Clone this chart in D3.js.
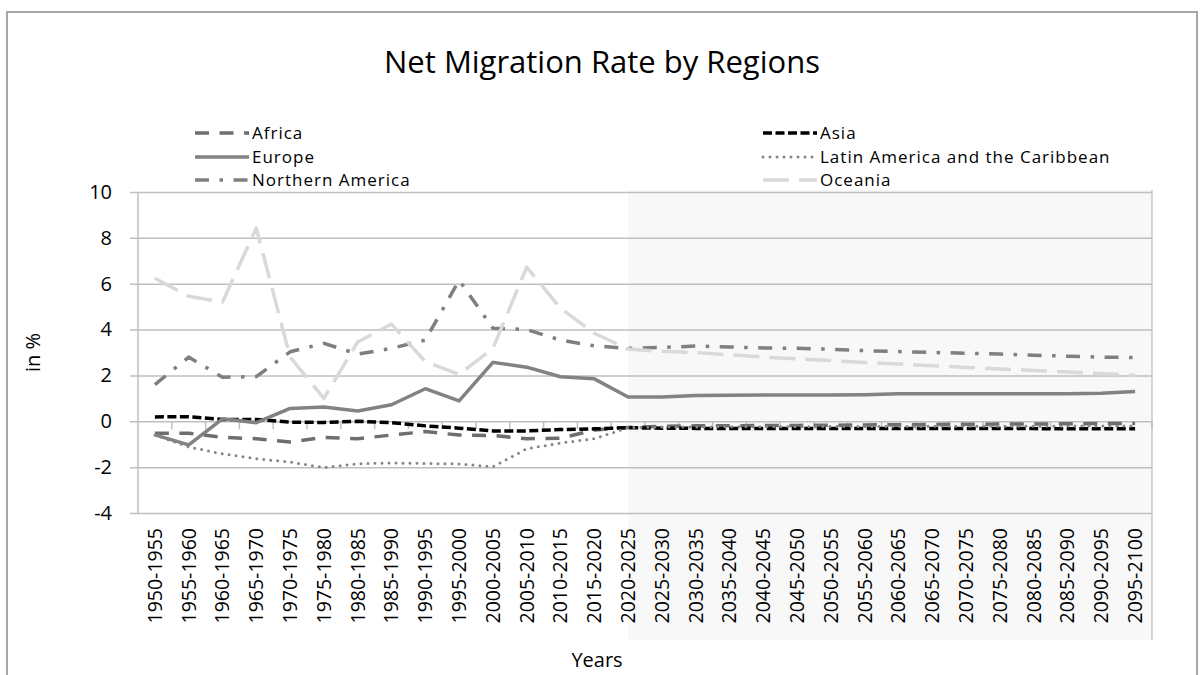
<!DOCTYPE html>
<html>
<head>
<meta charset="utf-8">
<script src="https://cdn.jsdelivr.net/npm/d3@7"></script>
<style>
  body { margin: 0; background: #fff; }
  svg text { font-family: "Open Sans", "Liberation Sans", sans-serif; fill: #000; }
</style>
</head>
<body>
<svg id="chart" width="1203" height="675"></svg>
<script>
const categories = ["1950-1955","1955-1960","1960-1965","1965-1970","1970-1975","1975-1980","1980-1985","1985-1990","1990-1995","1995-2000","2000-2005","2005-2010","2010-2015","2015-2020","2020-2025","2025-2030","2030-2035","2035-2040","2040-2045","2045-2050","2050-2055","2055-2060","2060-2065","2065-2070","2070-2075","2075-2080","2080-2085","2085-2090","2090-2095","2095-2100"];

const africa   = [-0.52,-0.52,-0.7,-0.76,-0.9,-0.7,-0.76,-0.6,-0.45,-0.6,-0.62,-0.76,-0.74,-0.38,-0.27,-0.22,-0.2,-0.2,-0.18,-0.18,-0.17,-0.16,-0.15,-0.14,-0.13,-0.12,-0.12,-0.11,-0.1,-0.1];
const asia     = [0.19,0.2,0.08,0.08,-0.04,-0.05,0.0,-0.06,-0.2,-0.3,-0.42,-0.42,-0.36,-0.33,-0.28,-0.3,-0.31,-0.31,-0.31,-0.32,-0.32,-0.32,-0.32,-0.32,-0.32,-0.32,-0.32,-0.33,-0.33,-0.33];
const europe   = [-0.59,-1.03,0.11,-0.06,0.56,0.62,0.45,0.72,1.42,0.89,2.57,2.36,1.94,1.85,1.06,1.06,1.12,1.14,1.15,1.15,1.15,1.16,1.2,1.2,1.2,1.2,1.2,1.2,1.22,1.3];
const latinAm  = [-0.6,-1.12,-1.42,-1.63,-1.78,-2.02,-1.85,-1.82,-1.84,-1.86,-1.98,-1.2,-0.95,-0.76,-0.28,-0.25,-0.25,-0.24,-0.24,-0.24,-0.23,-0.23,-0.23,-0.22,-0.22,-0.22,-0.22,-0.21,-0.21,-0.2];
const northAm  = [1.6,2.8,1.92,1.95,3.03,3.4,2.93,3.18,3.54,6.15,4.06,4.0,3.54,3.29,3.18,3.22,3.28,3.24,3.2,3.18,3.14,3.08,3.04,3.0,2.97,2.93,2.88,2.84,2.8,2.78];
const oceania  = [6.24,5.45,5.2,8.43,2.8,1.0,3.46,4.24,2.6,2.05,3.18,6.72,4.93,3.84,3.15,3.05,3.0,2.9,2.8,2.72,2.65,2.56,2.5,2.42,2.35,2.28,2.22,2.15,2.08,2.0];

const yTicks = [-4,-2,0,2,4,6,8,10];
const projectionStart = "2020-2025";

const series = [
  {name:"Africa", values:africa, color:"#6e6e6e", width:3.5, dash:"14,10.5", cap:"butt"},
  {name:"Asia", values:asia, color:"#000000", width:3.5, dash:"9,3.5", cap:"butt"},
  {name:"Europe", values:europe, color:"#828282", width:3.5, dash:null, cap:"butt"},
  {name:"Latin America and the Caribbean", values:latinAm, color:"#858585", width:3, dash:"0,7", cap:"round"},
  {name:"Northern America", values:northAm, color:"#7f7f7f", width:3.5, dash:"14,10.5,3.5,10.5", cap:"butt"},
  {name:"Oceania", values:oceania, color:"#d9d9d9", width:3.5, dash:"26,10", cap:"butt"}
];

const svg = d3.select("#chart");
const pL = 138, pR = 1152, pT = 192, pB = 513;

const x = d3.scaleBand().domain(categories).range([pL, pR]).padding(0);
const xc = c => x(c) + x.bandwidth() / 2;
const y = d3.scaleLinear().domain([-4, 10]).range([pB, pT]);

// outer frame
svg.append("rect").attr("x", 7).attr("y", 12).attr("width", 1190).attr("height", 700)
  .attr("fill", "#fff").attr("stroke", "#a6a6a6").attr("stroke-width", 2);

// projection shading
svg.append("rect")
  .attr("x", xc(projectionStart)).attr("y", pT - 2)
  .attr("width", pR - xc(projectionStart)).attr("height", 640 - pT + 2)
  .attr("fill", "#f8f8f8");
svg.append("line").attr("x1", pR).attr("x2", pR).attr("y1", pT - 2).attr("y2", 640)
  .attr("stroke", "#c8c8c8").attr("stroke-width", 1.5);

// gridlines via axis
const yAxis = d3.axisLeft(y).tickValues(yTicks).tickSize(-(pR - pL) - 8).tickPadding(0).tickFormat(d => String(d));
const gy = svg.append("g").attr("transform", `translate(${pL - 8},0)`).call(yAxis);
gy.select(".domain").remove();
gy.selectAll(".tick line").attr("stroke", "#bfbfbf").attr("stroke-width", 1.5);
gy.selectAll(".tick text").attr("x", -18).attr("font-size", 20).attr("fill", "#000")
  .attr("font-family", "Open Sans");

// y axis line
svg.append("line").attr("x1", pL).attr("x2", pL).attr("y1", pT).attr("y2", pB)
  .attr("stroke", "#bfbfbf").attr("stroke-width", 1.5);

// category tick marks on zero line
const xAxisG = svg.append("g").attr("transform", `translate(0,${y(0)})`);
xAxisG.selectAll("line.tk").data(categories.slice(1).concat(["__end"]))
  .join("line").attr("class", "tk")
  .attr("x1", d => d === "__end" ? pR : x(d)).attr("x2", d => d === "__end" ? pR : x(d))
  .attr("y1", 0).attr("y2", 8).attr("stroke", "#bfbfbf").attr("stroke-width", 1.5);

// category labels at bottom
const xAxis = d3.axisBottom(x).tickSize(0).tickPadding(0);
const gx = svg.append("g").attr("transform", `translate(0,${pB})`).call(xAxis);
gx.select(".domain").remove();
gx.selectAll(".tick text")
  .attr("font-size", 19.5).attr("font-family", "Open Sans").attr("fill", "#000")
  .attr("text-anchor", "end").attr("dy", "0.35em").attr("dx", 0)
  .attr("transform", "translate(0,15) rotate(-90)").attr("y", 0).attr("x", 0);

// lines
const line = d3.line().x((d, i) => xc(categories[i])).y(d => y(d));
svg.append("g").selectAll("path").data(series).join("path")
  .attr("d", s => line(s.values))
  .attr("fill", "none")
  .attr("stroke", s => s.color)
  .attr("stroke-width", s => s.width)
  .attr("stroke-dasharray", s => s.dash)
  .attr("stroke-linecap", s => s.cap)
  .attr("stroke-linejoin", "round");

// title
svg.append("text").attr("x", 602).attr("y", 73).attr("text-anchor", "middle")
  .attr("font-size", 31).text("Net Migration Rate by Regions");

// legend
const legCols = [195, 763];
const legRows = [133, 157, 180];
const lg = svg.append("g").selectAll("g").data(series).join("g")
  .attr("transform", (s, i) => `translate(${legCols[i % 2]},${legRows[Math.floor(i / 2)]})`);
lg.append("line").attr("x1", 0).attr("x2", 54).attr("y1", 0).attr("y2", 0)
  .attr("stroke", s => s.color).attr("stroke-width", s => s.width)
  .attr("stroke-dasharray", s => s.dash).attr("stroke-linecap", s => s.cap);
lg.append("text").attr("x", 57).attr("y", 0).attr("dy", "0.36em").attr("font-size", 17)
  .attr("letter-spacing", 1).text(s => s.name);

// axis titles
svg.append("text").attr("transform", `translate(40,${(pT + pB) / 2}) rotate(-90)`)
  .attr("text-anchor", "middle").attr("font-size", 20).text("in %");
svg.append("text").attr("x", 597).attr("y", 667).attr("text-anchor", "middle")
  .attr("font-size", 20).text("Years");
</script>
</body>
</html>
